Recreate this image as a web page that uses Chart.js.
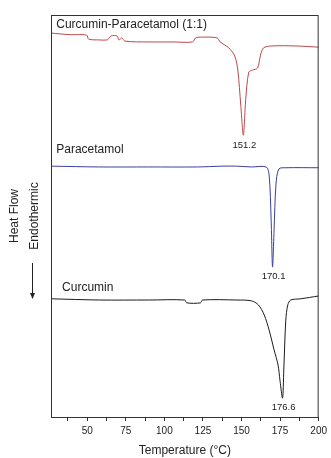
<!DOCTYPE html>
<html>
<head>
<meta charset="utf-8">
<script src="https://cdn.jsdelivr.net/npm/chart.js@4.4.1/dist/chart.umd.min.js"></script>
<style>
  html, body { margin: 0; padding: 0; background: #fff; }
  #wrap { width: 331px; height: 458px; position: relative; }
</style>
</head>
<body>
<div id="wrap"><canvas id="dsc"></canvas></div>
<script>
// DSC thermograms, temperature in °C, heat flow in arbitrary (offset) units
const mixTemp = [26.7, 32.4, 38.8, 49.6, 50.9, 57.9, 63.0, 64.2, 65.5, 69.3, 70.6, 72.5, 74.4, 89.6, 105.6, 118.3, 120.2, 124.7, 134.2, 136.1, 141.8, 145.6, 147.6, 149.5, 151.2, 152.7, 154.7, 157.2, 160.4, 162.3, 164.2, 169.3, 185.2, 200.0];
const mixFlow = [95.5, 95.3, 95.1, 95.0, 94.0, 93.8, 93.8, 94.3, 94.8, 94.8, 93.8, 94.3, 93.5, 93.3, 93.3, 93.3, 94.3, 94.5, 94.3, 93.3, 91.8, 89.8, 86.3, 77.6, 70.1, 78.9, 85.8, 86.3, 86.8, 90.0, 91.8, 92.3, 92.3, 92.0];

const paraTemp = [26.7, 57.9, 89.6, 121.4, 137.3, 146.9, 156.4, 166.0, 167.9, 169.2, 170.1, 171.1, 172.3, 174.2, 178.7, 200.0];
const paraFlow = [62.4, 62.2, 62.2, 62.2, 62.4, 62.4, 62.2, 62.2, 60.2, 49.0, 37.3, 46.5, 57.7, 61.7, 62.0, 62.0];

const curTemp = [26.7, 57.9, 89.6, 113.2, 114.5, 123.4, 124.7, 147.0, 156.4, 160.9, 164.7, 167.9, 171.1, 173.7, 174.9, 176.6, 177.4, 178.7, 180.0, 181.9, 188.3, 200.0];
const curFlow = [29.4, 29.1, 29.1, 29.1, 28.4, 28.4, 29.1, 29.1, 28.9, 27.9, 25.4, 21.6, 16.7, 12.9, 9.2, 4.7, 11.7, 24.1, 27.9, 29.1, 29.4, 30.1];

const seriesNames = ['Curcumin-Paracetamol (1:1)', 'Paracetamol', 'Curcumin'];
const peakTemps = [151.2, 170.1, 176.6];
const xTicks = [50, 75, 100, 125, 150, 175, 200];

const colors = ['#c0474c', '#3a3f9e', '#1c1c1c'];

function toPoints(xs, ys) {
    return xs.map((x, i) => ({ x: x, y: ys[i] }));
}

// labels written onto the plot: series names, peak temperatures, arrow, frame
const annotate = {
    id: 'annotate',
    afterDatasetsDraw(chart) {
        const { ctx, chartArea: a, scales: { x, y } } = chart;
        ctx.save();

        // frame round the plot
        ctx.strokeStyle = '#333';
        ctx.lineWidth = 1;
        ctx.strokeRect(a.left + 0.5, a.top + 0.5, a.right - a.left - 1, a.bottom - a.top);

        // series names (anchored in data units)
        const nameAnchors = [[29.9, 97.5], [29.9, 66.4], [33.7, 32.1]];
        ctx.fillStyle = '#222';
        ctx.font = "12px 'Liberation Sans', Arial, sans-serif";
        ctx.textBaseline = 'middle';
        ctx.textAlign = 'left';
        seriesNames.forEach((name, i) => {
            ctx.fillText(name, x.getPixelForValue(nameAnchors[i][0]), y.getPixelForValue(nameAnchors[i][1]));
        });

        // peak temperatures just under each minimum
        ctx.font = "9.5px 'Liberation Sans', Arial, sans-serif";
        ctx.textAlign = 'center';
        ctx.textBaseline = 'top';
        chart.data.datasets.forEach((ds, i) => {
            const min = ds.data.reduce((m, p) => (p.y < m.y ? p : m));
            ctx.fillText(peakTemps[i].toFixed(1), x.getPixelForValue(peakTemps[i]) + 1, y.getPixelForValue(min.y) + 5);
        });

        // downward arrow under the y title
        ctx.strokeStyle = '#222';
        ctx.fillStyle = '#222';
        ctx.beginPath();
        ctx.moveTo(32.5, 263);
        ctx.lineTo(32.5, 295);
        ctx.stroke();
        ctx.beginPath();
        ctx.moveTo(30, 293);
        ctx.lineTo(35, 293);
        ctx.lineTo(32.5, 299);
        ctx.closePath();
        ctx.fill();

        ctx.restore();
    }
};

new Chart(document.getElementById('dsc'), {
    type: 'line',
    data: {
        datasets: [
            { label: seriesNames[0], data: toPoints(mixTemp, mixFlow) },
            { label: seriesNames[1], data: toPoints(paraTemp, paraFlow) },
            { label: seriesNames[2], data: toPoints(curTemp, curFlow) }
        ].map((ds, i) => Object.assign(ds, {
            borderColor: colors[i],
            borderWidth: 1,
            pointRadius: 0,
            tension: 0.3,
            fill: false
        }))
    },
    options: {
        responsive: true,
        maintainAspectRatio: false,
        animation: false,
        layout: { padding: { top: 15, right: 8, left: 0, bottom: 0 } },
        plugins: {
            legend: { display: false },
            tooltip: { enabled: false }
        },
        scales: {
            x: {
                type: 'linear',
                min: 26.5,
                max: 200,
                afterFit(scale) { scale.height = 41; },
                afterBuildTicks(scale) {
                    // majors every 25, minors in between
                    const t = [];
                    xTicks.forEach(v => { t.push({ value: v - 12.5 }); t.push({ value: v }); });
                    scale.ticks = t;
                },
                grid: {
                    drawOnChartArea: false,
                    drawTicks: true,
                    tickLength: 4,
                    tickColor: '#333'
                },
                border: { display: true, color: '#333', width: 1 },
                ticks: {
                    padding: 4,
                    maxRotation: 0,
                    autoSkip: false,
                    color: '#222',
                    font: { family: "'Liberation Sans', Arial, sans-serif", size: 10 },
                    callback: v => (xTicks.includes(v) ? String(v) : '')
                },
                title: {
                    display: true,
                    text: 'Temperature (°C)',
                    color: '#222',
                    padding: { top: 0, bottom: 0 },
                    font: { family: "'Liberation Sans', Arial, sans-serif", size: 12 }
                }
            },
            y: {
                min: 0,
                max: 100,
                afterFit(scale) { scale.width = 51; },
                grid: { display: false, drawTicks: false },
                border: { display: false },
                ticks: { display: false },
                title: {
                    display: true,
                    text: ['Heat Flow', 'Endothermic'],
                    color: '#222',
                    padding: { top: 4, bottom: 0 },
                    font: { family: "'Liberation Sans', Arial, sans-serif", size: 12, lineHeight: 1.7 }
                }
            }
        }
    },
    plugins: [annotate]
});
</script>
</body>
</html>
